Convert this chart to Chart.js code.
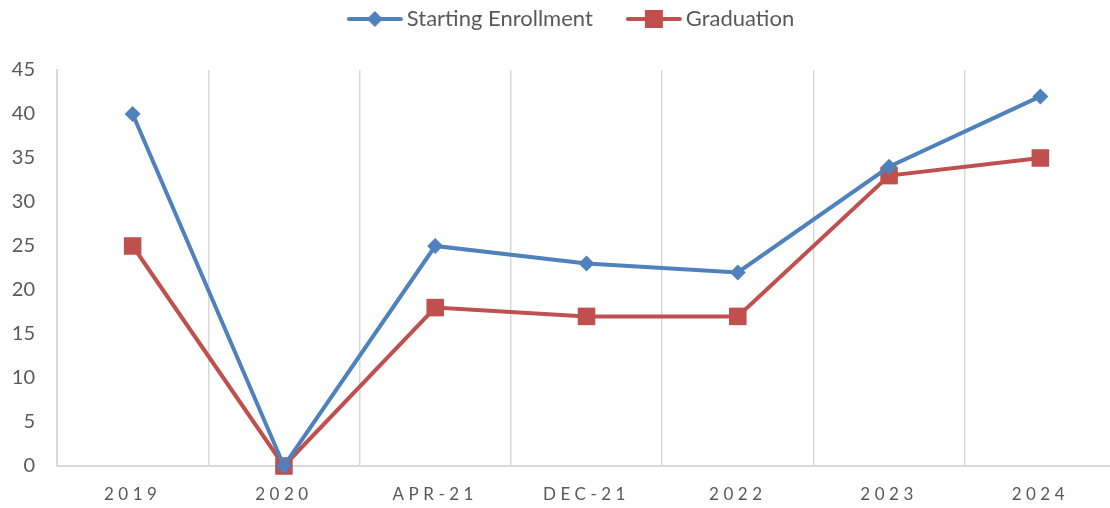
<!DOCTYPE html>
<html>
<head>
<meta charset="utf-8">
<script src="https://cdn.jsdelivr.net/npm/chart.js@4"></script>
<style>
html,body{margin:0;padding:0;overflow:hidden;background:#fff;width:1110px;height:508px;}
canvas{display:block;}
</style>
</head>
<body>
<canvas id="c" width="1116" height="508"></canvas>
<script>
const categories = ['2019', '2020', 'APR-21', 'DEC-21', '2022', '2023', '2024'];
const startingEnrollment = [40, 0, 25, 23, 22, 34, 42];
const graduation = [25, 0, 18, 17, 17, 33, 35];
const yTicks = [0, 5, 10, 15, 20, 25, 30, 35, 40, 45];

const BLUE = '#4F81BD';
const RED = '#C0504D';
const TEXT = '#595959';
const GRID = '#D9D9D9';
const FONT = "Lato, 'Open Sans', sans-serif";

function legendIcon(color, style, r) {
  const cv = document.createElement('canvas');
  cv.width = 120; cv.height = 26;
  const c = cv.getContext('2d');
  c.strokeStyle = color; c.lineWidth = 4; c.lineCap = 'round';
  c.beginPath(); c.moveTo(50, 13); c.lineTo(102, 13); c.stroke();
  c.fillStyle = color;
  c.beginPath();
  const cx = 76;
  if (style === 'diamond') {
    c.moveTo(cx - r, 13); c.lineTo(cx, 13 - r); c.lineTo(cx + r, 13); c.lineTo(cx, 13 + r); c.closePath();
  } else {
    c.rect(cx - r, 13 - r, 2 * r, 2 * r);
  }
  c.fill();
  return cv;
}
const icons = [legendIcon(BLUE, 'diamond', 8), legendIcon(RED, 'square', 9)];

const layoutPlugin = {
  id: 'tweaks',
  beforeLayout(chart) {
    const lg = chart.legend;
    if (lg && !lg._wrapped) {
      const f = lg.fit;
      lg.fit = function () { f.call(this); this.height = 70; };
      lg._wrapped = true;
    }
  },
  afterLayout(chart) {
    const s = chart.scales.x;
    if (s && !s._spaced) {
      const orig = s.drawLabels;
      s.drawLabels = function (area) {
        const c = this.ctx;
        c.save();
        c.letterSpacing = '4.5px';
        orig.call(this, area);
        c.restore();
      };
      s._spaced = true;
    }
  }
};

new Chart(document.getElementById('c'), {
  type: 'line',
  data: {
    labels: categories,
    datasets: [
      {
        label: 'Starting Enrollment',
        data: startingEnrollment,
        borderColor: BLUE,
        backgroundColor: BLUE,
        borderWidth: 4,
        pointStyle: 'rectRot',
        pointRadius: 8,
        pointHoverRadius: 8,
        pointBorderWidth: 0,
        tension: 0,
        clip: false
      },
      {
        label: 'Graduation',
        data: graduation,
        borderColor: RED,
        backgroundColor: RED,
        borderWidth: 4,
        pointStyle: 'rect',
        pointRadius: 12.4,
        pointHoverRadius: 12.4,
        pointBorderWidth: 0,
        tension: 0,
        clip: false
      }
    ]
  },
  options: {
    responsive: false,
    animation: false,
    layout: { autoPadding: false, padding: 0 },
    plugins: {
      tooltip: { enabled: false },
      legend: {
        position: 'top',
        labels: {
          usePointStyle: true,
          pointStyleWidth: 74,
          color: TEXT,
          font: { family: FONT, size: 22 },
          padding: 8,
          generateLabels(chart) {
            return chart.data.datasets.map((d, i) => ({
              text: d.label,
              pointStyle: icons[i],
              fillStyle: d.borderColor,
              strokeStyle: d.borderColor,
              lineWidth: 0,
              fontColor: TEXT,
              datasetIndex: i,
              hidden: false
            }));
          }
        }
      }
    },
    scales: {
      x: {
        offset: true,
        grid: { display: true, offset: true, color: GRID, lineWidth: 1.5, drawTicks: false },
        border: { display: true, color: GRID, width: 2 },
        ticks: { color: TEXT, font: { family: FONT, size: 17 }, padding: 18, maxRotation: 0 },
        afterFit(s) { s.height = 42; }
      },
      y: {
        min: 0,
        max: 45,
        afterBuildTicks(s) { s.ticks = yTicks.map(v => ({ value: v })); },
        grid: { display: false, drawTicks: false },
        border: { display: true, color: GRID, width: 2 },
        ticks: { color: TEXT, font: { family: FONT, size: 20 }, padding: 22 },
        afterFit(s) { s.width = 57; }
      }
    }
  },
  plugins: [layoutPlugin]
});
</script>
</body>
</html>
